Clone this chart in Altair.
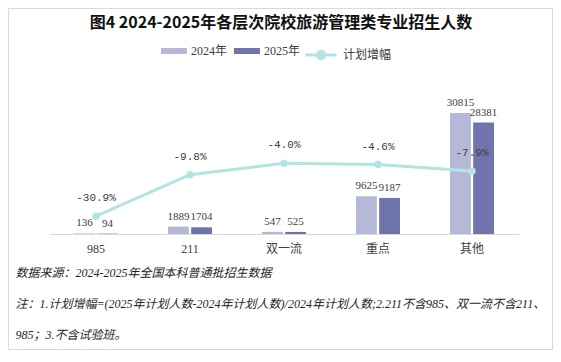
import altair as alt
import pandas as pd

# ---- data ----
categories = ["985", "211", "双一流", "重点", "其他"]
years = ["2024年", "2025年"]
enroll_2024 = [136, 1889, 547, 9625, 30815]
enroll_2025 = [94, 1704, 525, 9187, 28381]
growth_pct = [-30.9, -9.8, -4.0, -4.6, -7.9]
left_ticks = [0, 5000, 10000, 15000, 20000, 25000, 30000, 35000, 40000]
right_ticks = [-0.4, -0.3, -0.2, -0.1, 0.0, 0.1, 0.2, 0.3, 0.4]
title_text = "图4  2024-2025年各层次院校旅游管理类专业招生人数"
notes = [
    "数据来源：2024-2025年全国本科普通批招生数据",
    "注：1.计划增幅=(2025年计划人数-2024年计划人数)/2024年计划人数;2.211不含985、双一流不含211、",
    "985；3.不含试验班。",
]

bars_df = pd.DataFrame({
    "层次": categories * 2,
    "年份": [years[0]] * len(categories) + [years[1]] * len(categories),
    "人数": enroll_2024 + enroll_2025,
})
line_df = pd.DataFrame({
    "层次": categories,
    "增幅": [g / 100 for g in growth_pct],
    "标签": [f"{g:.1f}%" for g in growth_pct],
    "系列": ["计划增幅"] * len(categories),
})

SERIF = "'Liberation Serif', 'Noto Sans CJK SC', serif"
CJK = "'Noto Sans CJK SC', sans-serif"
TXT = "#404040"
C24, C25, CLINE = "#b5b8d7", "#7074ad", "#b3e4e2"

x_enc = alt.X(
    "层次:N", sort=categories,
    scale=alt.Scale(paddingInner=0.532, paddingOuter=0.266),
    axis=alt.Axis(
        labelAngle=0, labelFont=SERIF, labelFontSize=12, labelColor=TXT,
        labelPadding=9, ticks=False, domainColor="#d9d9d9", domainWidth=1,
        title=notes, titleFont=SERIF, titleFontSize=12, titleFontStyle="italic",
        titleFontWeight="normal", titleColor="#262626", titleAnchor="start",
        titleAlign="left", titleX=-34, titleY=38, titleBaseline="middle",
        titleLineHeight=31,
    ),
)

y_left = alt.Y(
    "人数:Q", scale=alt.Scale(domain=[0, 40000]),
    axis=alt.Axis(values=left_ticks, format="d", title=None, grid=False, ticks=False,
                  domain=False, labelFont=SERIF, labelFontSize=12, labelColor=TXT,
                  labelPadding=7),
)
y_left_noaxis = alt.Y("人数:Q", scale=alt.Scale(domain=[0, 40000]), axis=None)

y_right = alt.Y(
    "增幅:Q", scale=alt.Scale(domain=[-0.4, 0.4]),
    axis=alt.Axis(orient="right", values=right_ticks, title=None, grid=False,
                  ticks=False, domain=False, labelFont=SERIF, labelFontSize=12,
                  labelColor=TXT, labelPadding=7,
                  labelExpr="(datum.value < -0.0001 ? '-' : '') + format(abs(datum.value) * 100, '.0f') + '%'"),
)
y_right_noaxis = alt.Y("增幅:Q", scale=alt.Scale(domain=[-0.4, 0.4]), axis=None)

bars = alt.Chart(bars_df).mark_bar().encode(
    x=x_enc,
    xOffset=alt.XOffset("年份:N", sort=years, scale=alt.Scale(paddingInner=0.1)),
    y=y_left,
    color=alt.Color(
        "年份:N", sort=years,
        scale=alt.Scale(domain=years, range=[C24, C25]),
        legend=alt.Legend(
            title=None, orient="none", direction="horizontal", legendX=112, legendY=-39,
            symbolType="M-1,-0.23L1,-0.23L1,0.23L-1,0.23Z", symbolSize=676,
            symbolStrokeWidth=0, labelFont=SERIF, labelFontSize=12, labelColor=TXT,
            labelOffset=4, columnPadding=6,
        ),
    ),
)

bar_text = alt.Chart(bars_df).mark_text(
    baseline="bottom", dy=-5, font=SERIF, fontSize=11, color=TXT
).encode(
    x=alt.X("层次:N", sort=categories),
    xOffset=alt.XOffset("年份:N", sort=years),
    y=y_left_noaxis,
    text=alt.Text("人数:Q", format="d"),
)

line = alt.Chart(line_df).mark_line(strokeWidth=3).encode(
    x=alt.X("层次:N", sort=categories),
    y=y_right,
    stroke=alt.Stroke(
        "系列:N", scale=alt.Scale(range=[CLINE]),
        legend=alt.Legend(
            title=None, orient="none", direction="horizontal", legendX=255, legendY=-39,
            symbolType="M-1,0L1,0M0.25,0A0.25,0.25 0 1 1 -0.25,0A0.25,0.25 0 1 1 0.25,0Z",
            symbolSize=961, symbolStrokeWidth=3, symbolFillColor=CLINE,
            labelFont=CJK, labelFontSize=12, labelColor=TXT, labelOffset=5,
        ),
    ),
)

points = alt.Chart(line_df).mark_point(filled=True, size=55, color=CLINE, opacity=1).encode(
    x=alt.X("层次:N", sort=categories),
    y=y_right_noaxis,
)

pct_text = alt.Chart(line_df).mark_text(
    baseline="middle", dy=-18, font="'Liberation Mono', monospace", fontSize=11, color=TXT
).encode(
    x=alt.X("层次:N", sort=categories),
    y=y_right_noaxis,
    text="标签:N",
)

border = alt.Chart(alt.Data(values=[{"k": 1}])).mark_rect(
    fillOpacity=0, stroke="#d9d9d9", strokeWidth=1
).encode(
    x=alt.value(-40.5), x2=alt.value(503.5), y=alt.value(-68.5), y2=alt.value(272.5)
)

chart = alt.layer(
    border,
    alt.layer(bars, bar_text),
    alt.layer(line, points, pct_text),
).resolve_scale(
    y="independent", color="independent", stroke="independent"
).properties(
    width=470, height=157,
    title=alt.TitleParams(
        text=title_text, font=CJK, fontSize=16, fontWeight="bold", color="#111111",
        anchor="middle", dx=-3, dy=27,
    ),
    autosize=alt.AutoSizeParams(type="none"),
    padding={"left": 41, "top": 69, "right": 34, "bottom": 116},
    background="white",
).configure_view(stroke=None)

chart.save("out.html", embed_options={"renderer": "svg", "actions": False})
